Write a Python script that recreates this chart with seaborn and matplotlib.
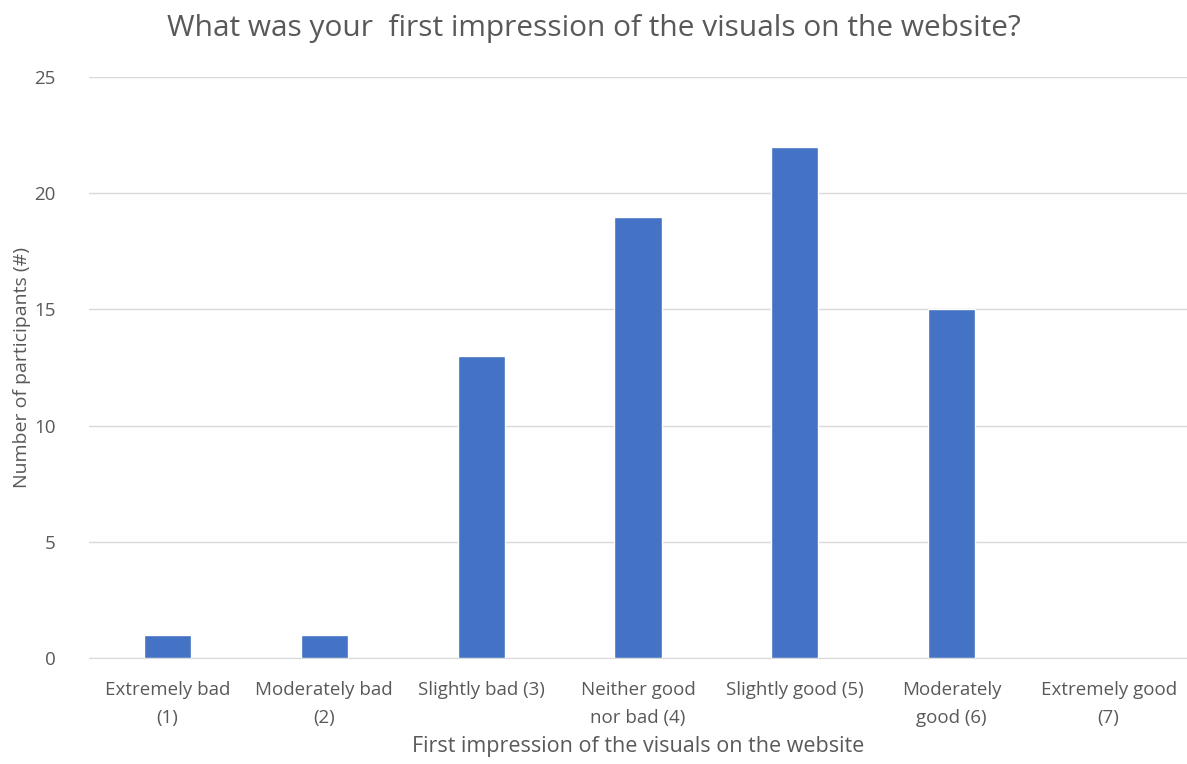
import seaborn as sns
import matplotlib.pyplot as plt
import pandas as pd

# Survey answers: first impression of the visuals.
categories = ["Extremely bad\n(1)", "Moderately bad\n(2)", "Slightly bad (3)",
              "Neither good\nnor bad (4)", "Slightly good (5)", "Moderately\ngood (6)",
              "Extremely good\n(7)"]
counts = [1, 1, 13, 19, 22, 15, 0]
yticks = [0, 5, 10, 15, 20, 25]

df = pd.DataFrame({"answer": categories, "count": counts})

sns.set_style("white")
plt.rcParams["font.family"] = ["Open Sans", "DejaVu Sans"]
grey = "#595959"

fig = plt.figure(figsize=(11.87, 7.64), dpi=100)
ax = fig.add_axes([0.075, 0.139, 0.925, 0.760])

sns.barplot(data=df, x="answer", y="count", color="#4472C4", width=0.3,
            saturation=1, ax=ax, zorder=3)

ax.set_ylim(0, 25)
ax.set_yticks(yticks)
ax.set_xlim(-0.5, len(categories) - 0.5)
ax.yaxis.grid(True, color="#d9d9d9", linewidth=1, zorder=0)
for s in ["top", "right", "left"]:
    ax.spines[s].set_visible(False)
ax.spines["bottom"].set_color("#d9d9d9")
ax.tick_params(axis="x", length=0, labelsize=13.5, colors=grey, pad=17)
ax.tick_params(axis="y", length=0, labelsize=13.5, colors=grey, pad=24)
for lbl in ax.get_xticklabels():
    lbl.set_linespacing(1.65)

ax.set_xlabel("First impression of the visuals on the website", fontsize=15.5, color=grey, labelpad=7)
ax.set_ylabel("Number of participants (#)", fontsize=14, color=grey, labelpad=2)
fig.suptitle("What was your  first impression of the visuals on the website?",
             fontsize=21.5, color=grey, x=0.5, y=0.982)

fig.savefig("out.png", dpi=100)
